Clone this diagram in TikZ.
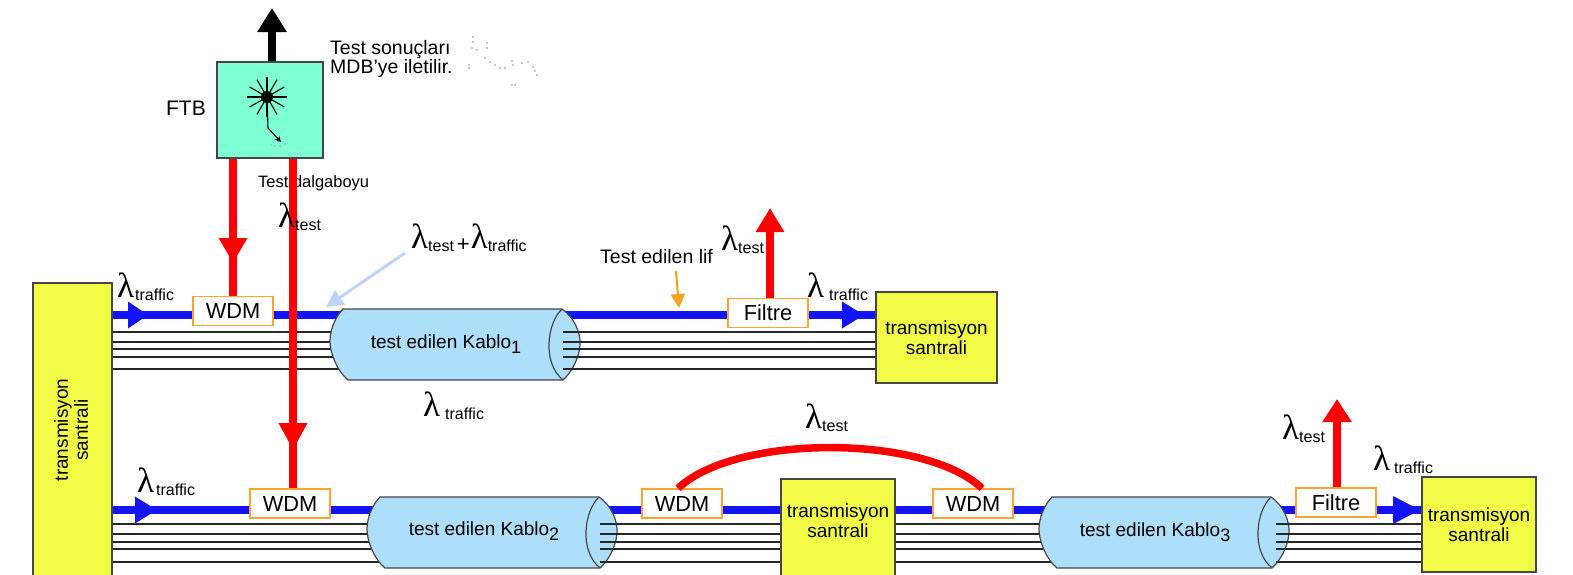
\documentclass[tikz,border=0pt]{standalone}
\usepackage{fontspec}
\setmainfont{Liberation Sans}
\newfontfamily\lamfont{Liberation Serif}
\usetikzlibrary{arrows.meta}

\definecolor{santralfill}{RGB}{242,252,70}
\definecolor{cablefill}{RGB}{173,222,250}
\definecolor{ftbfill}{RGB}{127,255,212}
\definecolor{fiberblue}{RGB}{20,20,250}
\definecolor{testred}{RGB}{255,0,0}
\definecolor{wdmorange}{RGB}{250,165,50}
\definecolor{hintblue}{RGB}{188,212,250}
\definecolor{liforange}{RGB}{245,160,30}
\definecolor{edgegray}{RGB}{70,70,70}

\newcommand\fs[1]{\fontsize{#1}{#1}\selectfont}
% lambda with a lowered sans subscript; optional gap between them
\newcommand\lamlabel[2][0pt]{{\fs{35}\lamfont λ}\kern#1\raisebox{-3pt}{\fs{16}#2}}
\newcommand\kablo[1]{test edilen Kablo\raisebox{-5pt}{\fs{18}#1}}

\pgfdeclarelayer{wires}
\pgfdeclarelayer{cables}
\pgfsetlayers{wires,cables,main}

\tikzset{
  santral/.style={draw=edgegray, fill=santralfill, line width=1.2pt, inner sep=0pt,
    align=center, font=\fontsize{19}{20}\selectfont},
  wdmbox/.style={draw=wdmorange, fill=white, line width=1.3pt, minimum width=80pt,
    minimum height=29pt, inner sep=0pt, font=\fs{21.8}},
  cabletext/.style={inner sep=0pt, font=\fs{19}},
  cableskin/.style={draw=edgegray, fill=cablefill, line width=1.2pt},
  cableedge/.style={draw=edgegray, line width=1.2pt},
  bluefiber/.style={draw=fiberblue, line width=7.5pt},
  fiber/.style={draw=black!85, line width=1.3pt},
  redbeam/.style={draw=testred, line width=7.5pt},
  lam/.style={anchor=base west, inner sep=0pt},
  note/.style={anchor=base west, inner sep=0pt, font=\fs{19.5}},
  cable/.pic={
    \draw[cableskin] (13,0) -- (232,0) .. controls (244,8) and (251,24) .. (250,36)
      .. controls (249,50) and (241,64) .. (233,71) -- (18,71)
      .. controls (7,62) and (0,44) .. (0,32) .. controls (0,20) and (6,7) .. (13,0) -- cycle;
    \draw[cableedge] (232,0) .. controls (217,14) and (212,54) .. (233,71);
  }
}

\begin{document}
\begin{tikzpicture}[x=1pt,y=-1pt]
\useasboundingbox (0,0) rectangle (1573,574);
\clip (0,0) rectangle (1573,574);

% ---------- exchanges ----------
\node[santral, minimum width=79pt, minimum height=330pt] (src) at (72.5,448) {};
\node[font=\fontsize{19}{20}\selectfont, align=center, rotate=90, inner sep=0pt] (srctext) at (71,430) {transmisyon\\santrali};
\node[santral, minimum width=121pt, minimum height=91pt] (dst1) at (936.5,337.5) {transmisyon\\santrali};
\node[santral, minimum width=114pt, minimum height=140pt] (mid) at (838,549) {};
\node[font=\fontsize{19}{20}\selectfont, align=center, inner sep=0pt] (midtext) at (838,521) {transmisyon\\santrali};
\node[santral, minimum width=114pt, minimum height=95pt] (dst2) at (1479,524.5) {transmisyon\\santrali};

% ---------- test unit ----------
\node[draw=edgegray, fill=ftbfill, line width=1.2pt, minimum width=106pt, minimum height=96pt, inner sep=0pt] (ftb) at (270,110) {};
\node[anchor=base east, inner sep=0pt, font=\fs{21}] (ftblabel) at (206,115) {FTB};
\coordinate (star) at (267,97);
\foreach \a in {0,30,...,150}
  \draw[line width=1.1pt] (star) ++(\a:20) -- ++(\a+180:40);
\fill (star) circle (6);
\draw[line width=1.1pt, -{Stealth[length=6pt,width=6pt]}] (star) -- (268,128) -- (281,142);
\foreach \p in {(271,145),(275,146),(280,146),(285,144)}
  \fill[black!60] \p circle (0.7);

% ---------- WDM couplers and filters ----------
\node[wdmbox] (wdmA) at (233,311) {WDM};
\node[wdmbox] (wdmB) at (290,503.5) {WDM};
\node[wdmbox] (wdmC) at (682,503.5) {WDM};
\node[wdmbox] (wdmD) at (973,503.5) {WDM};
\node[wdmbox] (filtre1) at (768,313) {Filtre};
\node[wdmbox] (filtre2) at (1336,502.5) {Filtre};

% ---------- fibres ----------
\begin{pgfonlayer}{wires}
  \draw[bluefiber] (src.east |- 0,315) -- (dst1.west |- 0,315);
  \draw[bluefiber] (src.east |- 0,510) -- (dst2.west |- 0,510);
  \foreach \y in {332,342,349,357,369}
    \draw[fiber] (src.east |- 0,\y) -- (dst1.west |- 0,\y);
  \foreach \y in {524,534,542,549,562}
    \draw[fiber] (src.east |- 0,\y) -- (dst2.west |- 0,\y);
\end{pgfonlayer}

% ---------- cables ----------
\begin{pgfonlayer}{cables}
  \pic (k1) at (330,309) {cable};
  \pic (k2) at (367,497) {cable};
  \pic (k3) at (1039,497) {cable};
  \foreach \y in {332,342,349,357,369}
    \draw[fiber] (563,\y) -- (dst1.west |- 0,\y);
  \foreach \y in {524,534,542,549,562} {
    \draw[fiber] (600,\y) -- (mid.west |- 0,\y);
    \draw[fiber] (1276,\y) -- (dst2.west |- 0,\y);
  }
\end{pgfonlayer}
\node[cabletext] (k1text) at (446,344) {\kablo{1}};
\node[cabletext] (k2text) at (484,531) {\kablo{2}};
\node[cabletext] (k3text) at (1155,532) {\kablo{3}};

% ---------- traffic direction heads ----------
\fill[fiberblue] (128,301.5) -- (148,315) -- (128,328.5) -- cycle;
\fill[fiberblue] (842,301.5) -- (864,315) -- (842,328.5) -- cycle;
\fill[fiberblue] (135,496.5) -- (157,510) -- (135,523.5) -- cycle;
\fill[fiberblue] (1393,496) -- (1420,510) -- (1393,524) -- cycle;

% ---------- texts ----------
\node[note] (res1) at (330,54) {Test sonuçları};
\node[note] (res2) at (330,73) {MDB’ye iletilir.};
\foreach \p in {(473,37),(473,42),(472,48),(477,50),(487,43),(487,48),(469,65),(469,68),
  (485,58),(490,62),(495,65),(500,68),(505,68),(512,61),(513,65),(522,63),(528,62),
  (533,67),(535,71),(512,85),(515,85),(537,75)}
  \fill[black!45] \p circle (0.9);
\node[anchor=base west, inner sep=0pt, font=\fs{16.5}] (dalga) at (258,187) {Test dalgaboyu};
\node[note] (lifnote) at (600,263) {Test edilen lif};

% ---------- test wavelength paths ----------
\draw[line width=8pt, -{Triangle[length=24pt,width=28pt]}] (ftb.north -| 272,0) -- (272,8);
\draw[redbeam, -{Triangle[length=25pt,width=27pt]}] (ftb.south -| 233,0) -- (233,263);
\draw[redbeam] (233,255) -- (wdmA.north);
\draw[redbeam, -{Triangle[length=27pt,width=27pt]}] (ftb.south -| 293,0) -- (293,450);
\draw[redbeam] (293,440) -- (wdmB.north -| 293,0);
\draw[redbeam, -{Triangle[length=24pt,width=27pt]}] (filtre1.north -| 770,0) -- (770,208);
\draw[redbeam, -{Triangle[length=23pt,width=28pt]}] (filtre2.north -| 1337,0) -- (1337,399);
\draw[redbeam] (wdmC.north -| 678,0) .. controls (735,434) and (925,434) .. (wdmD.north -| 982,0);

% ---------- wavelength labels ----------
\node[lam] (ltA) at (117,297) {\lamlabel[1pt]{traffic}};
\node[lam] (ltest1) at (278,227) {\lamlabel{test}};
\node[lam] (lsum) at (411,248) {\lamlabel{test}\kern3pt\raisebox{-3pt}{\fs{22}+}\kern1pt\lamlabel{traffic}};
\node[lam] (ltest2) at (721,250) {\lamlabel{test}};
\node[lam] (ltB) at (807,297) {\lamlabel[5pt]{traffic}};
\node[lam] (ltC) at (423,416) {\lamlabel[5pt]{traffic}};
\node[lam] (ltD) at (137,492) {\lamlabel[2pt]{traffic}};
\node[lam] (ltest3) at (805,428) {\lamlabel{test}};
\node[lam] (ltest4) at (1282,439) {\lamlabel{test}};
\node[lam] (ltE) at (1373,470) {\lamlabel[4pt]{traffic}};

% ---------- pointers ----------
\coordinate (hintend) at (326,307);
\draw[hintblue, line width=3pt, -{Triangle[length=17pt,width=17pt]}] ([xshift=-6pt,yshift=-5pt]lsum.base west) -- (hintend);
\coordinate (lifstart) at (676,271);
\coordinate (lifend) at (679,308);
\draw[liforange, line width=2pt, -{Triangle[length=14pt,width=14pt]}] (lifstart) -- (lifend);
\end{tikzpicture}
\end{document}
